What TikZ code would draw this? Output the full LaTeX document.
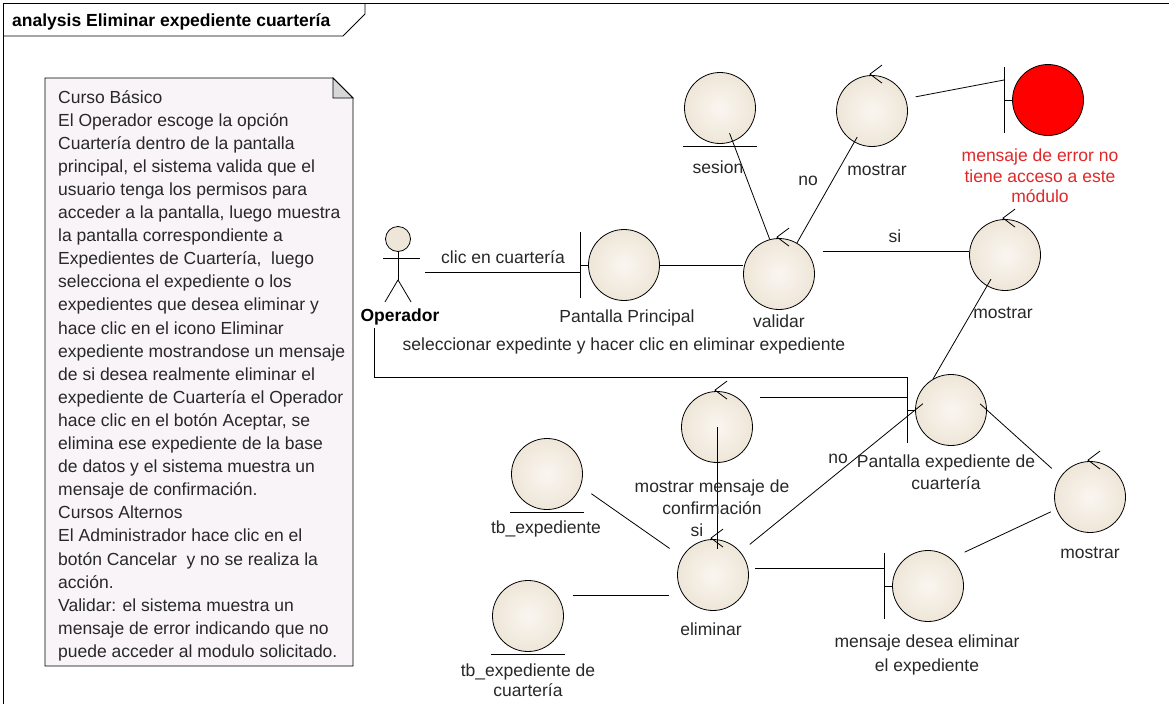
\documentclass[tikz,border=0pt]{standalone}
\usepackage{fontspec}
\setmainfont{Liberation Sans}
\usetikzlibrary{calc}
\definecolor{ink}{RGB}{40,40,40}
\definecolor{beigeout}{RGB}{238,230,216}
\definecolor{beigein}{RGB}{250,246,240}
\definecolor{notefill}{RGB}{248,244,248}
\definecolor{foldfill}{RGB}{215,215,215}
\definecolor{errred}{RGB}{255,0,0}
\definecolor{errtext}{RGB}{225,40,40}

% robustness-diagram helpers
\newcommand\boundarybar[1]{%
  \coordinate (#1bar) at ($(#1.center)+(-44,0)$);
  \draw[conn] ($(#1bar)+(0,-33)$) -- ($(#1bar)+(0,33)$);
  \draw[conn] (#1bar) -- (#1.west);}
\newcommand\entitybar[1]{%
  \draw[conn] ($(#1.south)+(-37,2)$) -- ($(#1.south)+(37,2)$);}
\newcommand\controlmark[1]{%
  \draw[conn] ($(#1.north)+(10,-10)$) -- ($(#1.north)+(-2,-1)$) -- ($(#1.north)+(10,8)$);}

\begin{document}
\begin{tikzpicture}[x=1pt,y=-1pt,
  every node/.style={font=\fontsize{17.5}{21.5}\selectfont, text=ink, inner sep=0pt},
  conn/.style={draw=black, line width=0.8pt},
  ball/.style={circle, draw=black, line width=0.8pt, minimum size=71pt},
  robust/.style={ball, shading=radial, inner color=beigein, outer color=beigeout},
  lbl/.style={anchor=base},
  mlbl/.style={anchor=north, align=center},
]
\useasboundingbox (0,0) rectangle (1169,704);
\fill[white] (0,0) rectangle (1169,704);

% diagram frame and title tab
\draw[line width=1pt] (3,704) -- (3,3.5) -- (1169,3.5);
\draw[line width=0.9pt] (3,36) -- (343,36) -- (365,14) -- (365,3.5);
\node[anchor=base west, font=\bfseries\fontsize{17.5}{20}\selectfont, text=black] (title) at (12,27) {analysis Eliminar expediente cuartería};

% note
\draw[line width=0.9pt, fill=notefill] (45,78) -- (333,78) -- (353,98) -- (353,666) -- (45,666) -- cycle;
\draw[line width=0.9pt, fill=foldfill] (333,78) -- (333,98) -- (353,98) -- cycle;
\foreach \t [count=\i] in {
  {Curso Básico},
  {El Operador escoge la opción},
  {Cuartería dentro de la pantalla},
  {principal, el sistema valida que el},
  {usuario tenga los permisos para},
  {acceder a la pantalla, luego muestra},
  {la pantalla correspondiente a},
  {Expedientes de Cuartería,\ \ luego},
  {selecciona el expediente o los},
  {expedientes que desea eliminar y},
  {hace clic en el icono Eliminar},
  {expediente mostrandose un mensaje},
  {de si desea realmente eliminar el},
  {expediente de Cuartería el Operador},
  {hace clic en el botón Aceptar, se},
  {elimina ese expediente de la base},
  {de datos y el sistema muestra un},
  {mensaje de confirmación.},
  {Cursos Alternos},
  {El Administrador hace clic en el},
  {botón Cancelar\ \ y no se realiza la},
  {acción.},
  {Validar: el sistema muestra un},
  {mensaje de error indicando que no},
  {puede acceder al modulo solicitado.}}
  \node[anchor=base west] (note\i) at (58,{103+23.1*(\i-1)}) {\t};

% actor
\node[circle, draw=black, line width=0.8pt, minimum size=25pt, fill=beigeout] (ophead) at (398,239) {};
\draw[conn] (ophead.south) -- ++(0,28) coordinate (ophip);
\draw[conn] (383,258) -- (420,258);
\draw[conn] (ophip) -- ++(-13,22);
\draw[conn] (ophip) -- ++(13,22);
\node[lbl, font=\bfseries\fontsize{17.5}{20}\selectfont, text=black] (oplbl) at (400,321) {Operador};

% elements
\node[robust] (sesion) at (720,108) {};
\node[robust] (mostrarA) at (872,111) {};
\node[ball, fill=errred] (err) at (1048,100) {};
\node[robust] (validar) at (779,274) {};
\node[robust] (pp) at (624,265) {};
\node[robust] (mostrarB) at (1005,255) {};
\node[robust] (pe) at (951,410) {};
\node[robust] (mmc) at (717,427) {};
\node[robust] (elim) at (713,575) {};
\node[robust] (tbexp) at (547,474) {};
\node[robust] (tbcq) at (528,616) {};
\node[robust] (md) at (928,586) {};
\node[robust] (mostrarC) at (1090,497) {};

\boundarybar{pp}
\boundarybar{err}
\boundarybar{pe}
\boundarybar{md}
\entitybar{sesion}
\entitybar{tbexp}
\entitybar{tbcq}
\controlmark{mostrarA}
\controlmark{validar}
\controlmark{mostrarB}
\controlmark{mmc}
\controlmark{elim}
\controlmark{mostrarC}

% connectors
\coordinate (opr) at (425,272);
\draw[conn] (opr) -- (opr -| ppbar);
\draw[conn] (pp.east) -- (validar.west |- pp.east);
\draw[conn, shorten <=16pt] (validar.40) -- (validar.40 -| mostrarB.west);
\draw[conn, shorten <=27pt] (sesion.center) -- (validar.105);
\draw[conn, shorten <=30pt] (mostrarA.center) -- (validar.60);
\draw[conn, shorten <=10pt] (mostrarA.20) -- ($(errbar)+(0,-20)$);
\coordinate (opdown) at (374,328);
\draw[conn] (opdown) |- ($(pebar)+(0,-33)$);
\coordinate (mmcr) at (760,397);
\draw[conn] (mmcr) -- (mmcr -| pebar);
\draw[conn] (mmc.center) -- ($(mmc.center |- elim.north)+(0,10)$);
\draw[conn, shorten <=13pt, shorten >=15pt] (tbexp.-20) -- (elim.150);
\draw[conn, shorten <=16pt, shorten >=8pt] (tbcq.35) -- (tbcq.35 -| elim.west);
\draw[conn, shorten <=12pt, shorten >=-10pt] (elim.40) -- (pe.west);
\draw[conn, shorten <=7pt] (elim.10) -- (elim.10 -| mdbar);
\draw[conn, shorten <=15pt, shorten >=6pt] (md.50) -- (mostrarC.-160);
\draw[conn, shorten <=-9pt, shorten >=12pt] (pe.east) -- (mostrarC.145);
\draw[conn, shorten >=28pt] (pe.120) -- (mostrarB.center);

% labels
\node[lbl] (lsesion) at (718,173) {sesion};
\node[lbl] (lmostrarA) at (877,175) {mostrar};
\node[mlbl, text=errtext, font=\fontsize{17.5}{20.5}\selectfont] (lerr) at (1040,148.7) {mensaje de error no\\tiene acceso a este\\módulo};
\node[lbl] (lno1) at (808,185) {no};
\node[lbl] (lclic) at (503,263) {clic en cuartería};
\node[lbl] (lpp) at (627,322) {Pantalla Principal};
\node[lbl] (lvalidar) at (779,327) {validar};
\node[lbl] (lsi1) at (895,242) {si};
\node[lbl] (lmostrarB) at (1003,318) {mostrar};
\node[lbl] (lsel) at (624,350) {seleccionar expedinte y hacer clic en eliminar expediente};
\node[mlbl, font=\fontsize{17.5}{22}\selectfont] (lmmc) at (712,479.7) {mostrar mensaje de\\confirmación};
\node[lbl] (lsi2) at (697,536) {si};
\node[lbl] (lno2) at (838,463) {no};
\node[mlbl, font=\fontsize{17.5}{22}\selectfont] (lpe) at (946,454.7) {Pantalla expediente de\\cuartería};
\node[lbl] (ltbexp) at (546,533) {tb\_expediente};
\node[mlbl, font=\fontsize{17.5}{20}\selectfont] (ltbcq) at (528,663.7) {tb\_expediente de\\cuartería};
\node[lbl] (lelim) at (711,635) {eliminar};
\node[mlbl, font=\fontsize{17.5}{24}\selectfont] (lmd) at (927,634.7) {mensaje desea eliminar\\el expediente};
\node[lbl] (lmostrarC) at (1090,558) {mostrar};
\end{tikzpicture}
\end{document}
